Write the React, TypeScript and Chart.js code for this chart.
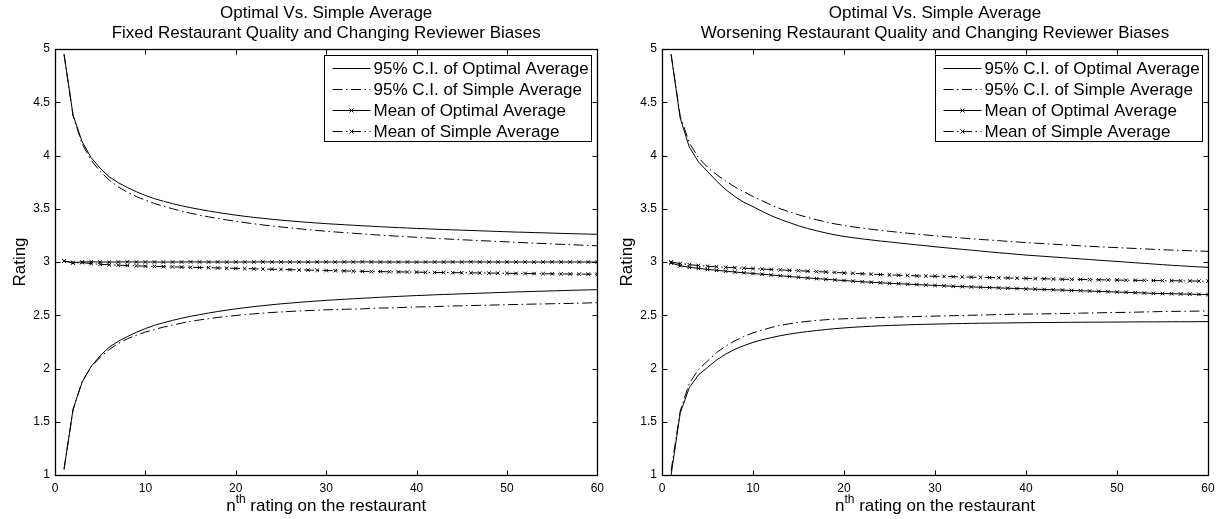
import React, { useEffect, useRef } from "react";
import { Chart, registerables } from "chart.js";

Chart.register(...registerables);

const FONT = '"Liberation Sans", Arial, Helvetica, sans-serif';

// ---------- data ----------
const ratingIndex = [
  1, 2, 3, 4, 5, 6, 7, 8, 9, 10, 11, 12, 13, 14, 15, 16, 17, 18, 19, 20,
  21, 22, 23, 24, 25, 26, 27, 28, 29, 30, 31, 32, 33, 34, 35, 36, 37, 38, 39, 40,
  41, 42, 43, 44, 45, 46, 47, 48, 49, 50, 51, 52, 53, 54, 55, 56, 57, 58, 59, 60,
];

const xTicks = [0, 10, 20, 30, 40, 50, 60];
const yTicks = [1, 1.5, 2, 2.5, 3, 3.5, 4, 4.5, 5];

const titleFixed = ["Optimal Vs. Simple Average", "Fixed Restaurant Quality and Changing Reviewer Biases"];
const titleWorsening = ["Optimal Vs. Simple Average", "Worsening Restaurant Quality and Changing Reviewer Biases"];
const legendLabels = [
  "95% C.I. of Optimal Average",
  "95% C.I. of Simple Average",
  "Mean of Optimal Average",
  "Mean of Simple Average",
];

// Left panel: fixed quality
const fixedOptUpper = [
  4.95, 4.38, 4.13, 3.98, 3.88, 3.80, 3.745, 3.70, 3.66, 3.625,
  3.595, 3.57, 3.548, 3.528, 3.51, 3.494, 3.479, 3.465, 3.452, 3.44,
  3.429, 3.419, 3.41, 3.401, 3.393, 3.386, 3.379, 3.372, 3.366, 3.36,
  3.355, 3.35, 3.345, 3.34, 3.336, 3.331, 3.327, 3.323, 3.319, 3.315,
  3.312, 3.308, 3.305, 3.302, 3.299, 3.296, 3.293, 3.29, 3.287, 3.284,
  3.281, 3.279, 3.276, 3.274, 3.271, 3.269, 3.266, 3.264, 3.262, 3.26,
];
const fixedOptLower = [
  1.05, 1.62, 1.87, 2.02, 2.12, 2.20, 2.255, 2.30, 2.34, 2.375,
  2.405, 2.43, 2.452, 2.472, 2.49, 2.506, 2.521, 2.535, 2.548, 2.56,
  2.571, 2.581, 2.59, 2.599, 2.607, 2.614, 2.621, 2.628, 2.634, 2.64,
  2.645, 2.65, 2.655, 2.66, 2.664, 2.669, 2.673, 2.677, 2.681, 2.685,
  2.688, 2.692, 2.695, 2.698, 2.701, 2.704, 2.707, 2.71, 2.713, 2.716,
  2.719, 2.721, 2.724, 2.726, 2.729, 2.731, 2.734, 2.736, 2.738, 2.74,
];
const fixedSimUpper = [
  4.95, 4.37, 4.11, 3.955, 3.85, 3.77, 3.705, 3.655, 3.615, 3.58,
  3.55, 3.523, 3.50, 3.478, 3.458, 3.44, 3.424, 3.409, 3.395, 3.382,
  3.37, 3.359, 3.348, 3.338, 3.329, 3.32, 3.312, 3.304, 3.296, 3.289,
  3.282, 3.276, 3.27, 3.264, 3.258, 3.252, 3.247, 3.242, 3.237, 3.232,
  3.227, 3.222, 3.218, 3.213, 3.209, 3.205, 3.201, 3.197, 3.193, 3.189,
  3.185, 3.181, 3.177, 3.174, 3.17, 3.166, 3.163, 3.159, 3.156, 3.152,
];
const fixedSimLower = [
  1.06, 1.61, 1.88, 2.015, 2.106, 2.178, 2.235, 2.279, 2.313, 2.342,
  2.366, 2.389, 2.408, 2.426, 2.442, 2.456, 2.468, 2.479, 2.489, 2.498,
  2.506, 2.513, 2.52, 2.526, 2.531, 2.536, 2.54, 2.544, 2.548, 2.551,
  2.554, 2.556, 2.558, 2.56, 2.564, 2.568, 2.569, 2.572, 2.575, 2.578,
  2.579, 2.582, 2.584, 2.587, 2.589, 2.591, 2.593, 2.595, 2.597, 2.599,
  2.601, 2.603, 2.605, 2.606, 2.608, 2.61, 2.611, 2.613, 2.616, 2.618,
];
const fixedOptMean = [
  3.01, 2.995, 3.0, 3.002, 3.0, 2.999, 3.0, 3.001, 3.0, 3.0,
  3.0, 2.999, 3.0, 3.0, 3.001, 3.0, 3.0, 3.0, 2.999, 3.0,
  3.0, 3.0, 3.001, 3.0, 3.0, 3.0, 3.0, 2.999, 3.0, 3.0,
  3.0, 3.0, 3.0, 3.001, 3.0, 3.0, 3.0, 3.0, 3.0, 2.999,
  3.0, 3.0, 3.0, 3.0, 3.0, 3.001, 3.0, 3.0, 3.0, 3.0,
  3.0, 3.0, 2.999, 3.0, 3.0, 3.0, 3.0, 3.0, 3.0, 3.0,
];
const fixedSimMean = [
  3.01, 2.99, 2.995, 2.985, 2.978, 2.974, 2.97, 2.967, 2.964, 2.961,
  2.958, 2.956, 2.954, 2.952, 2.95, 2.948, 2.946, 2.944, 2.942, 2.94,
  2.938, 2.936, 2.934, 2.932, 2.93, 2.928, 2.926, 2.924, 2.922, 2.92,
  2.918, 2.916, 2.914, 2.912, 2.911, 2.91, 2.908, 2.907, 2.906, 2.905,
  2.903, 2.902, 2.901, 2.9, 2.899, 2.898, 2.897, 2.896, 2.895, 2.894,
  2.893, 2.892, 2.891, 2.89, 2.889, 2.888, 2.887, 2.886, 2.886, 2.885,
];

// Right panel: worsening quality
const worseOptUpper = [
  4.95, 4.35, 4.08, 3.94, 3.85, 3.76, 3.68, 3.615, 3.56, 3.52,
  3.475, 3.435, 3.40, 3.37, 3.34, 3.315, 3.293, 3.273, 3.255, 3.24,
  3.228, 3.217, 3.207, 3.197, 3.188, 3.179, 3.17, 3.161, 3.153, 3.143,
  3.135, 3.127, 3.119, 3.111, 3.103, 3.095, 3.087, 3.08, 3.072, 3.065,
  3.059, 3.053, 3.047, 3.041, 3.035, 3.029, 3.023, 3.017, 3.011, 3.005,
  2.999, 2.993, 2.987, 2.981, 2.975, 2.969, 2.964, 2.959, 2.954, 2.95,
];
const worseOptLower = [
  1.0, 1.58, 1.82, 1.94, 2.01, 2.08, 2.135, 2.18, 2.215, 2.245,
  2.27, 2.29, 2.308, 2.323, 2.336, 2.347, 2.357, 2.366, 2.374, 2.381,
  2.387, 2.392, 2.397, 2.401, 2.404, 2.407, 2.41, 2.413, 2.415, 2.417,
  2.419, 2.421, 2.422, 2.424, 2.425, 2.426, 2.427, 2.428, 2.429, 2.43,
  2.431, 2.432, 2.432, 2.433, 2.434, 2.434, 2.435, 2.435, 2.436, 2.436,
  2.437, 2.437, 2.438, 2.438, 2.438, 2.439, 2.439, 2.439, 2.44, 2.44,
];
const worseSimUpper = [
  4.95, 4.37, 4.12, 3.98, 3.89, 3.82, 3.76, 3.705, 3.66, 3.615,
  3.575, 3.535, 3.50, 3.47, 3.443, 3.418, 3.396, 3.376, 3.358, 3.343,
  3.33, 3.318, 3.307, 3.297, 3.288, 3.279, 3.27, 3.262, 3.254, 3.246,
  3.239, 3.232, 3.225, 3.218, 3.212, 3.206, 3.2, 3.194, 3.188, 3.182,
  3.177, 3.172, 3.167, 3.162, 3.157, 3.152, 3.147, 3.143, 3.139, 3.135,
  3.131, 3.127, 3.123, 3.119, 3.115, 3.112, 3.109, 3.106, 3.103, 3.10,
];
const worseSimLower = [
  1.04, 1.60, 1.86, 1.99, 2.07, 2.15, 2.21, 2.26, 2.30, 2.335,
  2.36, 2.385, 2.405, 2.42, 2.433, 2.443, 2.451, 2.458, 2.463, 2.467,
  2.47, 2.473, 2.476, 2.479, 2.481, 2.484, 2.486, 2.488, 2.49, 2.492,
  2.494, 2.496, 2.498, 2.5, 2.502, 2.504, 2.506, 2.508, 2.51, 2.511,
  2.512, 2.513, 2.514, 2.516, 2.517, 2.52, 2.521, 2.523, 2.525, 2.526,
  2.527, 2.529, 2.531, 2.533, 2.535, 2.536, 2.537, 2.538, 2.539, 2.54,
];
const worseOptMean = [
  2.99, 2.965, 2.95, 2.94, 2.93, 2.922, 2.914, 2.906, 2.899, 2.892,
  2.885, 2.878, 2.871, 2.864, 2.857, 2.85, 2.844, 2.838, 2.832, 2.826,
  2.82, 2.815, 2.81, 2.805, 2.8, 2.796, 2.792, 2.788, 2.784, 2.78,
  2.776, 2.772, 2.769, 2.766, 2.763, 2.76, 2.757, 2.754, 2.751, 2.748,
  2.745, 2.742, 2.739, 2.736, 2.733, 2.73, 2.727, 2.724, 2.721, 2.718,
  2.715, 2.712, 2.709, 2.706, 2.704, 2.702, 2.70, 2.698, 2.696, 2.694,
];
const worseSimMean = [
  3.0, 2.985, 2.975, 2.967, 2.96, 2.955, 2.95, 2.946, 2.942, 2.938,
  2.934, 2.93, 2.926, 2.922, 2.918, 2.914, 2.91, 2.906, 2.902, 2.898,
  2.894, 2.89, 2.886, 2.882, 2.879, 2.876, 2.873, 2.87, 2.868, 2.866,
  2.864, 2.862, 2.86, 2.858, 2.856, 2.854, 2.852, 2.85, 2.848, 2.846,
  2.844, 2.842, 2.84, 2.838, 2.837, 2.836, 2.834, 2.833, 2.832, 2.83,
  2.829, 2.828, 2.827, 2.826, 2.825, 2.824, 2.823, 2.822, 2.821, 2.82,
];

// ---------- styles ----------
const DASH_DOT = [10, 3.5, 1.5, 3.5];

type Style = { dash: number[]; marker: boolean };
const legendStyles: Style[] = [
  { dash: [], marker: false },
  { dash: DASH_DOT, marker: false },
  { dash: [], marker: true },
  { dash: DASH_DOT, marker: true },
];

const pts = (ys: number[]) => ys.map((y, i) => ({ x: ratingIndex[i], y }));

function makeDatasets(optU: number[], optL: number[], simU: number[], simL: number[], optM: number[], simM: number[]) {
  const base = {
    borderColor: "#000",
    borderWidth: 1,
    pointRadius: 0,
    tension: 0,
    fill: false,
  };
  const withMarker = {
    pointRadius: 2.5,
    pointStyle: "crossRot",
    pointBorderColor: "#000",
    pointBackgroundColor: "#000",
    pointBorderWidth: 1,
  };
  return [
    { ...base, label: legendLabels[0], data: pts(optU) },
    { ...base, label: legendLabels[1], data: pts(simU), borderDash: DASH_DOT },
    { ...base, ...withMarker, label: legendLabels[2], data: pts(optM) },
    { ...base, ...withMarker, label: legendLabels[3], data: pts(simM), borderDash: DASH_DOT },
    { ...base, label: legendLabels[0] + " (lower)", data: pts(optL) },
    { ...base, label: legendLabels[1] + " (lower)", data: pts(simL), borderDash: DASH_DOT },
  ];
}

function drawCross(ctx: CanvasRenderingContext2D, x: number, y: number, r: number) {
  ctx.beginPath();
  ctx.moveTo(x - r, y - r);
  ctx.lineTo(x + r, y + r);
  ctx.moveTo(x - r, y + r);
  ctx.lineTo(x + r, y - r);
  ctx.stroke();
}

function makeFramePlugin(titleLines: string[]) {
  return {
    id: "matlabFrame",
    afterDraw(chart: any) {
      const { ctx, chartArea: a, scales } = chart;
      ctx.save();
      ctx.strokeStyle = "#000";
      ctx.fillStyle = "#000";
      ctx.lineWidth = 1;
      ctx.setLineDash([]);
      const L = Math.round(a.left) + 0.5;
      const R = Math.round(a.right) + 0.5;
      const T = Math.round(a.top) + 0.5;
      const B = Math.round(a.bottom) + 0.5;
      // inward tick marks on all sides
      const tl = 5;
      ctx.beginPath();
      scales.x.ticks.forEach((t: any) => {
        const px = Math.round(scales.x.getPixelForValue(t.value)) + 0.5;
        ctx.moveTo(px, B);
        ctx.lineTo(px, B - tl);
        ctx.moveTo(px, T);
        ctx.lineTo(px, T + tl);
      });
      scales.y.ticks.forEach((t: any) => {
        const py = Math.round(scales.y.getPixelForValue(t.value)) + 0.5;
        ctx.moveTo(L, py);
        ctx.lineTo(L + tl, py);
        ctx.moveTo(R, py);
        ctx.lineTo(R - tl, py);
      });
      ctx.stroke();
      // box
      ctx.lineWidth = 1.3;
      ctx.strokeRect(L, T, R - L, B - T);

      // titles
      const cx = (a.left + a.right) / 2;
      ctx.font = `17px ${FONT}`;
      ctx.textAlign = "center";
      ctx.textBaseline = "middle";
      ctx.fillText(titleLines[0], cx, 13);
      ctx.fillText(titleLines[1], cx, 33);

      // y axis title
      ctx.save();
      ctx.translate(a.left - 35, (a.top + a.bottom) / 2);
      ctx.rotate(-Math.PI / 2);
      ctx.fillText("Rating", 0, 0);
      ctx.restore();

      // x axis title with superscript
      ctx.textAlign = "left";
      ctx.textBaseline = "alphabetic";
      const big = `17px ${FONT}`;
      const small = `12px ${FONT}`;
      ctx.font = big;
      const w1 = ctx.measureText("n").width;
      const w3 = ctx.measureText(" rating on the restaurant").width;
      ctx.font = small;
      const w2 = ctx.measureText("th").width;
      let x0 = cx - (w1 + w2 + w3) / 2;
      const by = 511;
      ctx.font = big;
      ctx.fillText("n", x0, by);
      x0 += w1;
      ctx.font = small;
      ctx.fillText("th", x0, by - 8);
      x0 += w2;
      ctx.font = big;
      ctx.fillText(" rating on the restaurant", x0, by);

      // legend
      const bw = 267;
      const bh = 86;
      const bx = Math.round(a.right) - 273 + 0.5;
      const byy = Math.round(a.top) + 6 + 0.5;
      ctx.fillStyle = "#fff";
      ctx.fillRect(bx, byy, bw, bh);
      ctx.strokeStyle = "#000";
      ctx.lineWidth = 1;
      ctx.strokeRect(bx, byy, bw, bh);
      ctx.fillStyle = "#000";
      ctx.font = `17px ${FONT}`;
      ctx.textBaseline = "middle";
      legendLabels.forEach((lab, i) => {
        const st = legendStyles[i];
        const y = Math.round(byy + 12 + i * 21) + 0.5;
        ctx.setLineDash(st.dash);
        ctx.beginPath();
        ctx.moveTo(bx + 8, y);
        ctx.lineTo(bx + 46, y);
        ctx.stroke();
        ctx.setLineDash([]);
        if (st.marker) drawCross(ctx, bx + 27, y, 2);
        ctx.fillText(lab, bx + 49, y + 1);
      });
      ctx.restore();
    },
  };
}

function makeConfig(titleLines: string[], datasets: any[], yWidth: number, padRight: number) {
  const tickFont = { family: FONT, size: 12 };
  return {
    type: "line" as const,
    data: { datasets },
    options: {
      animation: false as const,
      responsive: false,
      maintainAspectRatio: false,
      layout: { padding: { left: 0, top: 49, right: padRight, bottom: 0 } },
      plugins: {
        legend: { display: false },
        title: { display: false },
        tooltip: { enabled: false },
      },
      scales: {
        x: {
          type: "linear" as const,
          min: 0,
          max: 60,
          grid: { display: false, drawTicks: false },
          border: { display: false },
          ticks: {
            color: "#000",
            font: tickFont,
            padding: 6,
            maxRotation: 0,
            autoSkip: false,
            callback: (v: number) => String(v),
          },
          afterBuildTicks: (s: any) => {
            s.ticks = xTicks.map((v) => ({ value: v }));
          },
          afterFit: (s: any) => {
            s.height = 44;
          },
        },
        y: {
          type: "linear" as const,
          min: 1,
          max: 5,
          grid: { display: false, drawTicks: false },
          border: { display: false },
          ticks: {
            color: "#000",
            font: tickFont,
            padding: 5,
            autoSkip: false,
            callback: (v: number) => String(v),
          },
          afterBuildTicks: (s: any) => {
            s.ticks = yTicks.map((v) => ({ value: v }));
          },
          afterFit: (s: any) => {
            s.width = yWidth;
          },
        },
      },
    },
    plugins: [makeFramePlugin(titleLines)],
  };
}

function Panel(props: { left: number; width: number; config: any }) {
  const ref = useRef<HTMLCanvasElement>(null);
  useEffect(() => {
    const chart = new Chart(ref.current as HTMLCanvasElement, props.config);
    return () => chart.destroy();
  }, []);
  return (
    <canvas
      ref={ref}
      width={props.width}
      height={519}
      style={{ position: "absolute", left: props.left, top: 0, width: props.width, height: 519, display: "block" }}
    />
  );
}

export default function App() {
  const leftCfg = makeConfig(
    titleFixed,
    makeDatasets(fixedOptUpper, fixedOptLower, fixedSimUpper, fixedSimLower, fixedOptMean, fixedSimMean),
    55,
    8
  );
  const rightCfg = makeConfig(
    titleWorsening,
    makeDatasets(worseOptUpper, worseOptLower, worseSimUpper, worseSimLower, worseOptMean, worseSimMean),
    52,
    13
  );
  return (
    <div style={{ position: "fixed", left: 0, top: 0, width: 1221, height: 519, background: "#fff" }}>
      <Panel left={0} width={610} config={leftCfg} />
      <Panel left={610} width={611} config={rightCfg} />
    </div>
  );
}
